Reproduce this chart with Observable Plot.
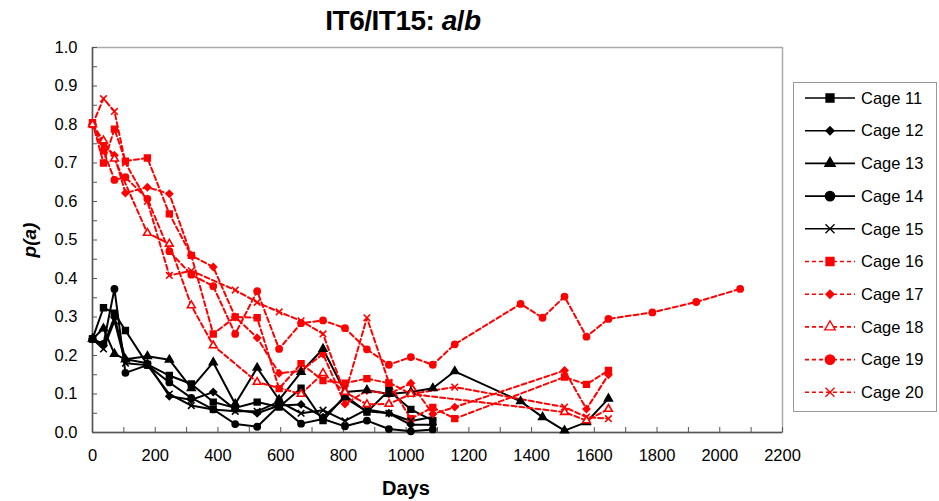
<!DOCTYPE html>
<html>
<head>
<meta charset="utf-8">
<script src="https://cdn.jsdelivr.net/npm/d3@7"></script>
<script src="https://cdn.jsdelivr.net/npm/@observablehq/plot@0.6"></script>
<style>
  body { margin: 0; background: #fff; font-family: "Liberation Sans", Arial, sans-serif; }
  #wrap { position: relative; width: 939px; height: 501px; overflow: hidden; background: #fff; }
  #title { position: absolute; left: 0; top: 3px; width: 806px; text-align: center; font-weight: bold; font-size: 28px; line-height: 36px; letter-spacing: -0.5px; }
  #ylab { position: absolute; left: 30px; top: 240px; transform: translate(-50%, -50%) rotate(-90deg); font-weight: bold; font-style: italic; font-size: 19px; white-space: nowrap; }
  #xlab { position: absolute; left: 406px; top: 488px; transform: translate(-50%, -50%); font-weight: bold; font-size: 20px; }
  #chart { position: absolute; left: 0; top: 40px; }
  #legend { position: absolute; left: 793px; top: 82px; }
</style>
</head>
<body>
<div id="wrap">
  <div id="title">IT6/IT15: <i>a</i>/<i>b</i></div>
  <div id="chart"></div>
  <div id="ylab">p(a)</div>
  <div id="xlab">Days</div>
  <div id="legend"></div>
</div>
<script>
// ---- data: [day, p(a)] ----
const cage11 = [[0,0.243],[35,0.324],[70,0.31],[105,0.265],[175,0.177],[245,0.148],[315,0.126],[385,0.079],[455,0.064],[525,0.079],[595,0.066],[665,0.115],[735,0.031],[805,0.096],[875,0.053],[945,0.109],[1015,0.06],[1085,0.031]];
const cage12 = [[0,0.243],[35,0.226],[70,0.30],[105,0.19],[175,0.18],[245,0.094],[315,0.085],[385,0.105],[455,0.06],[525,0.05],[595,0.07],[665,0.073],[735,0.04],[805,0.09],[875,0.055],[945,0.05],[1015,0.02],[1085,0.02]];
const cage13 = [[0,0.243],[35,0.27],[70,0.204],[105,0.19],[175,0.198],[245,0.189],[315,0.115],[385,0.182],[455,0.074],[525,0.168],[595,0.085],[665,0.157],[735,0.217],[805,0.105],[875,0.11],[945,0.10],[1015,0.105],[1085,0.115],[1155,0.159],[1365,0.081],[1435,0.04],[1505,0.005],[1575,0.027],[1645,0.088]];
const cage14 = [[0,0.243],[35,0.23],[70,0.373],[105,0.155],[175,0.175],[245,0.13],[315,0.09],[385,0.06],[455,0.022],[525,0.015],[595,0.07],[665,0.023],[735,0.035],[805,0.016],[875,0.031],[945,0.009],[1015,0.003],[1085,0.008]];
const cage15 = [[0,0.243],[35,0.217],[70,0.29],[105,0.18],[175,0.175],[245,0.10],[315,0.07],[385,0.06],[455,0.055],[525,0.055],[595,0.08],[665,0.05],[735,0.058],[805,0.03],[875,0.06],[945,0.05],[1015,0.03],[1085,0.04]];
const cage16 = [[0,0.805],[35,0.70],[70,0.788],[105,0.705],[175,0.713],[245,0.568],[315,0.46],[385,0.256],[455,0.30],[525,0.298],[595,0.114],[665,0.179],[735,0.135],[805,0.128],[875,0.14],[945,0.128],[1015,0.036],[1085,0.065],[1155,0.036],[1505,0.144],[1575,0.125],[1645,0.161]];
const cage17 = [[0,0.80],[35,0.75],[70,0.72],[105,0.622],[175,0.637],[245,0.62],[315,0.46],[385,0.43],[455,0.30],[525,0.246],[595,0.154],[665,0.16],[735,0.204],[805,0.074],[875,0.109],[945,0.10],[1015,0.128],[1085,0.048],[1155,0.066],[1505,0.161],[1575,0.061],[1645,0.15]];
const cage18 = [[0,0.80],[35,0.758],[70,0.711],[175,0.518],[245,0.49],[315,0.33],[385,0.226],[525,0.131],[665,0.10],[735,0.154],[805,0.105],[875,0.073],[945,0.074],[1015,0.10],[1505,0.053],[1575,0.031],[1645,0.061]];
const cage19 = [[0,0.80],[35,0.732],[70,0.656],[105,0.663],[175,0.607],[245,0.471],[315,0.41],[385,0.38],[455,0.256],[525,0.367],[595,0.217],[665,0.284],[735,0.291],[805,0.271],[875,0.216],[945,0.176],[1015,0.196],[1085,0.176],[1155,0.229],[1365,0.334],[1435,0.298],[1505,0.353],[1575,0.249],[1645,0.295],[1785,0.312],[1925,0.339],[2065,0.373]];
const cage20 = [[0,0.80],[35,0.867],[70,0.834],[105,0.70],[175,0.60],[245,0.408],[315,0.42],[455,0.37],[525,0.338],[595,0.313],[665,0.29],[735,0.256],[805,0.10],[875,0.298],[945,0.13],[1015,0.10],[1155,0.118],[1505,0.066],[1575,0.04],[1645,0.036]];

const cageNames = ["Cage 11","Cage 12","Cage 13","Cage 14","Cage 15","Cage 16","Cage 17","Cage 18","Cage 19","Cage 20"];
const cageData = [cage11,cage12,cage13,cage14,cage15,cage16,cage17,cage18,cage19,cage20];
const xLabelTicks = [0,200,400,600,800,1000,1200,1400,1600,1800,2000,2200];
const yLabelTicks = [0,0.1,0.2,0.3,0.4,0.5,0.6,0.7,0.8,0.9,1.0];

// ---- styles ----
const shapeOf = ["square","diamond","triangle","circle","times"];
const symbolFor = {square: d3.symbolSquare, diamond: d3.symbolDiamond2, triangle: d3.symbolTriangle, circle: d3.symbolCircle, times: d3.symbolTimes};
const rFor = {square: 6.6, diamond: 5.6, triangle: 5.2, circle: 6, times: 6};
const styles = cageNames.map((name, i) => {
  const shape = shapeOf[i % 5];
  const red = i >= 5;
  const color = red ? "#ff0000" : "#000000";
  return {name, shape, color, red, fill: (name === "Cage 18") ? "#ffffff" : color};
});
const styleOf = Object.fromEntries(styles.map(s => [s.name, s]));

const rows = cageData.flatMap((arr, i) => arr.map(([day, p]) => ({cage: cageNames[i], day, p})));
const blackRows = rows.filter(d => !styleOf[d.cage].red);
const redRows = rows.filter(d => styleOf[d.cage].red);

const font = '"Liberation Sans", Arial, sans-serif';

const chart = Plot.plot({
  width: 939,
  height: 461,
  marginLeft: 92,
  marginRight: 157,
  marginTop: 7,
  marginBottom: 69,
  x: {domain: [0, 2200]},
  y: {domain: [0, 1]},
  symbol: {domain: cageNames, range: styles.map(s => symbolFor[s.shape])},
  style: {fontFamily: font, fontSize: "16px", color: "#000", background: "#fff", overflow: "visible"},
  marks: [
    Plot.frame({stroke: "#aaaaaa", strokeWidth: 1.5}),
    Plot.axisX({ticks: d3.range(0, 2201, 100), tickSize: -5, tickFormat: () => "", label: null, stroke: "#555"}),
    Plot.axisX({ticks: xLabelTicks, tickSize: 0, tickPadding: 17, tickFormat: d3.format("d"), label: null, fontSize: 16.5}),
    Plot.axisY({ticks: d3.range(0, 1.0001, 0.05), tickSize: -5, tickFormat: () => "", label: null, stroke: "#555"}),
    Plot.axisY({ticks: yLabelTicks, tickSize: 0, tickPadding: 15, tickFormat: d3.format(".1f"), label: null, fontSize: 16.5}),
    Plot.ruleX([0], {stroke: "#555", strokeWidth: 1.5}),
    Plot.ruleY([0], {stroke: "#555", strokeWidth: 1.5}),
    Plot.line(blackRows, {x: "day", y: "p", z: "cage", stroke: "#000", strokeWidth: 2}),
    Plot.line(redRows, {x: "day", y: "p", z: "cage", stroke: "#ff0000", strokeWidth: 2, strokeDasharray: "5,3"}),
    Plot.dot(rows, {
      x: "day", y: "p", symbol: "cage",
      r: d => rFor[styleOf[d.cage].shape],
      fill: d => styleOf[d.cage].fill,
      stroke: d => styleOf[d.cage].color,
      strokeWidth: 1.6
    })
  ]
});
document.getElementById("chart").appendChild(chart);

// ---- legend ----
const lw = 144, lh = 330;
const lg = d3.select("#legend").append("svg").attr("width", lw).attr("height", lh)
  .style("font-family", font);
lg.append("rect").attr("x", 0.5).attr("y", 0.5).attr("width", lw - 1).attr("height", lh - 1)
  .attr("fill", "#fff").attr("stroke", "#999");
const legendSize = {square: 64, diamond: 42, triangle: 48, circle: 70, times: 55};
styles.forEach((s, i) => {
  const y = 16 + i * 32.7;
  const g = lg.append("g").attr("transform", `translate(0,${y})`);
  g.append("line").attr("x1", 12).attr("x2", 62).attr("y1", 0).attr("y2", 0)
    .attr("stroke", s.color).attr("stroke-width", 1.6)
    .attr("stroke-dasharray", s.red ? "4,3" : null);
  g.append("path").attr("transform", "translate(37,0)")
    .attr("d", d3.symbol(symbolFor[s.shape], legendSize[s.shape])())
    .attr("fill", s.shape === "times" ? "none" : (s.name === "Cage 18" ? "#fff" : s.color))
    .attr("stroke", s.color).attr("stroke-width", 1.3);
  g.append("text").attr("x", 68).attr("y", 0).attr("dy", "0.35em")
    .attr("font-size", 16.5).attr("fill", "#000").text(s.name);
});
</script>
</body>
</html>
